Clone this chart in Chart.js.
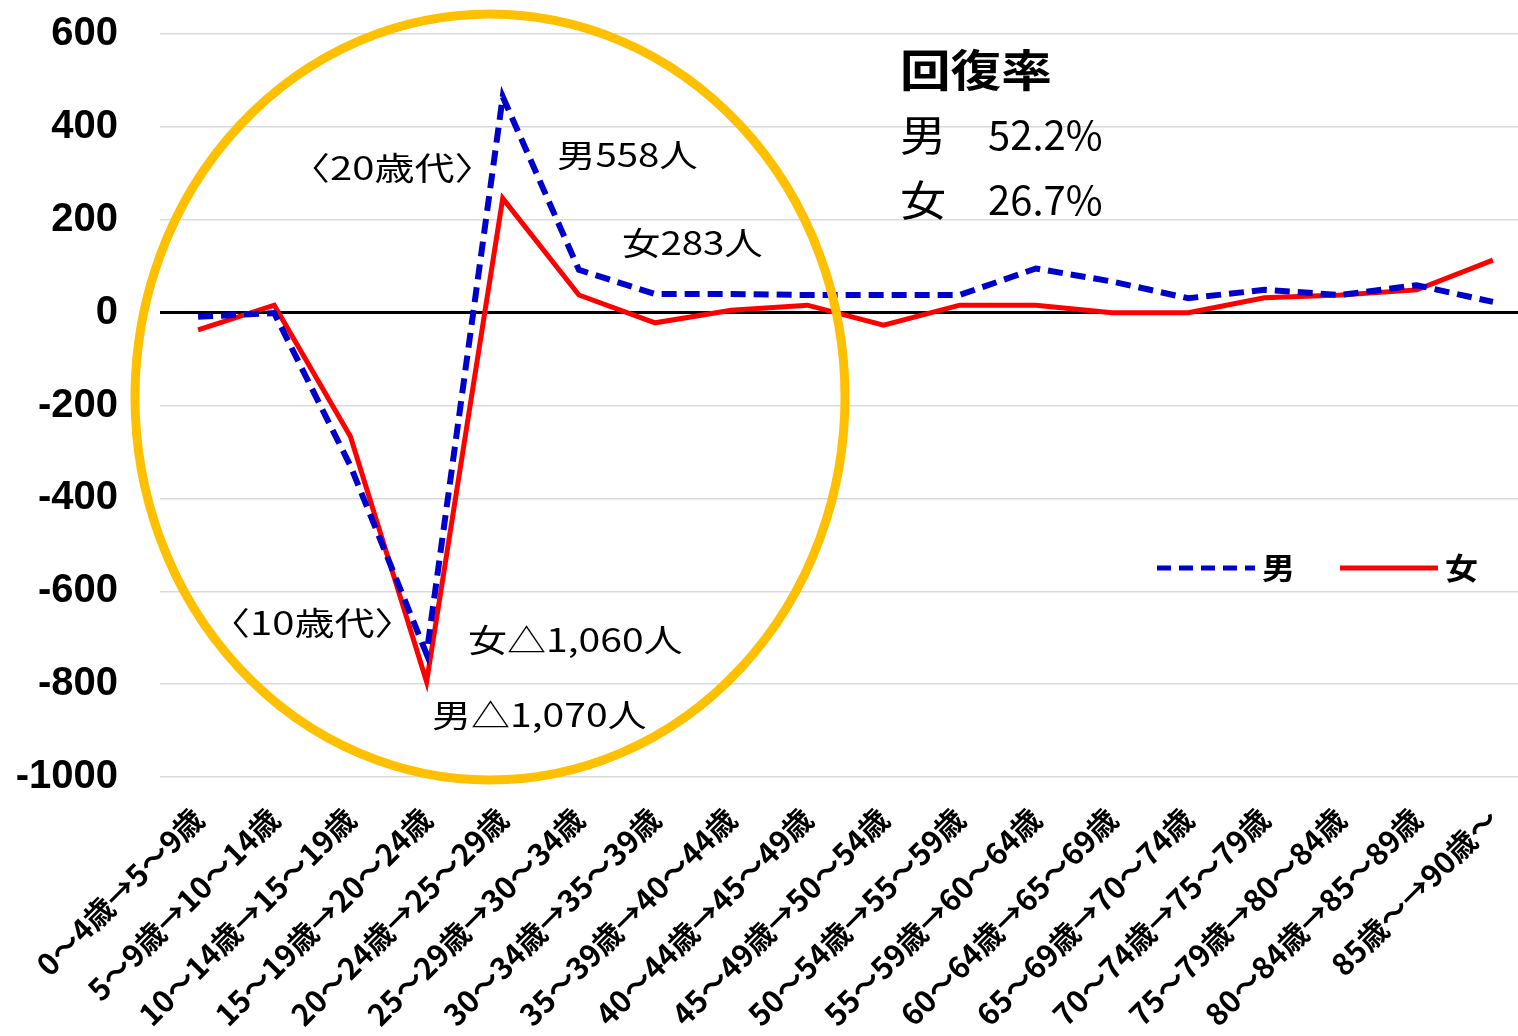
<!DOCTYPE html>
<html>
<head>
<meta charset="utf-8">
<script src="https://cdn.jsdelivr.net/npm/chart.js@4.4.1/dist/chart.umd.min.js"></script>
<style>
  html, body { margin: 0; padding: 0; background: #fff; overflow: hidden; }
  #wrap { width: 1518px; height: 1036px; overflow: hidden; }
</style>
</head>
<body>
<div id="wrap"><canvas id="my-chart" width="1531" height="1036"></canvas></div>
<script>
'use strict';

//categories (age cohort moves)
let ageLabels = [
  '0～4歳→5～9歳', '5～9歳→10～14歳', '10～14歳→15～19歳', '15～19歳→20～24歳',
  '20～24歳→25～29歳', '25～29歳→30～34歳', '30～34歳→35～39歳', '35～39歳→40～44歳',
  '40～44歳→45～49歳', '45～49歳→50～54歳', '50～54歳→55～59歳', '55～59歳→60～64歳',
  '60～64歳→65～69歳', '65～69歳→70～74歳', '70～74歳→75～79歳', '75～79歳→80～84歳',
  '80～84歳→85～89歳', '85歳～→90歳～'
];

//series values
let maleValues = [-9, -1, -330, -735, 465, 92, 40, 40, 38, 38, 38, 95, 67, 31, 49, 38, 59, 23];
let femaleValues = [-37, 16, -267, -795, 246, 38, -22, 5, 16, -27, 16, 16, 0, 0, 32, 38, 49, 113];

//y tick labels
let yTicks = [600, 400, 200, 0, -200, -400, -600, -800, -1000];

const jpFont = '"Noto Sans CJK JP", "Noto Sans", sans-serif';

function drawText(ctx, text, x, y, font, sx) {
  ctx.save();
  ctx.translate(x, y);
  ctx.scale(sx || 1, 1);
  ctx.font = font;
  ctx.fillStyle = '#000';
  ctx.textAlign = 'left';
  ctx.textBaseline = 'middle';
  ctx.fillText(text, 0, 0);
  ctx.restore();
}

//extra drawing: circle, notes, legend
let notesPlugin = {
  id: 'notes',
  afterDraw(chart) {
    let ctx = chart.ctx;
    ctx.save();
    ctx.strokeStyle = '#FFC000';
    ctx.lineWidth = 9;
    ctx.beginPath();
    ctx.ellipse(490, 397, 355, 383, 0, 0, Math.PI * 2);
    ctx.stroke();
    ctx.restore();

    let f32 = '32px ' + jpFont;
    drawText(ctx, '〈20歳代〉', 290, 168, f32, 1.25);
    drawText(ctx, '男558人', 557, 155, f32, 1.2);
    drawText(ctx, '女283人', 622, 243, f32, 1.2);
    drawText(ctx, '〈10歳代〉', 210, 623, f32, 1.25);
    drawText(ctx, '女△1,060人', 468, 640, f32, 1.22);
    drawText(ctx, '男△1,070人', 432, 715, f32, 1.22);

    drawText(ctx, '回復率', 900, 70, 'bold 44px ' + jpFont, 1.15);
    drawText(ctx, '男', 900, 135, '42px ' + jpFont, 1.1);
    drawText(ctx, '52.2%', 988, 135, '40px ' + jpFont, 1.0);
    drawText(ctx, '女', 900, 200, '42px ' + jpFont, 1.1);
    drawText(ctx, '26.7%', 988, 200, '40px ' + jpFont, 1.0);

    //legend
    ctx.save();
    ctx.lineWidth = 5;
    ctx.strokeStyle = '#0000CC';
    ctx.setLineDash([14, 8]);
    ctx.beginPath();
    ctx.moveTo(1157, 568);
    ctx.lineTo(1255, 568);
    ctx.stroke();
    ctx.setLineDash([]);
    ctx.strokeStyle = '#FF0000';
    ctx.beginPath();
    ctx.moveTo(1340, 568);
    ctx.lineTo(1438, 568);
    ctx.stroke();
    ctx.restore();
    drawText(ctx, '男', 1262, 568, 'bold 30px ' + jpFont, 1.1);
    drawText(ctx, '女', 1445, 568, 'bold 30px ' + jpFont, 1.1);
  }
};

const ctx = document.getElementById('my-chart').getContext('2d');

let chartData = {
  type: 'line',
  data: {
    labels: ageLabels,
    datasets: [{
      label: '男',
      data: maleValues,
      borderColor: '#0000CC',
      borderWidth: 6,
      borderDash: [15, 8],
      pointRadius: 0,
      tension: 0,
      fill: false
    },
    {
      label: '女',
      data: femaleValues,
      borderColor: '#FF0000',
      borderWidth: 5,
      pointRadius: 0,
      tension: 0,
      fill: false
    }]
  },
  options: {
    responsive: false,
    animation: false,
    layout: { padding: { top: 34, left: 0, right: 0, bottom: 0 } },
    plugins: {
      legend: { display: false },
      tooltip: { enabled: false }
    },
    scales: {
      x: {
        offset: true,
        grid: { display: false, drawTicks: false },
        border: { display: false },
        ticks: {
          autoSkip: false,
          maxRotation: 45,
          minRotation: 45,
          padding: 24,
          color: '#000',
          font: { family: jpFont, size: 30, weight: 'bold' }
        },
        afterFit(scale) {
          scale.height = 259;
          scale.paddingLeft = 0;
          scale.paddingRight = 0;
        }
      },
      y: {
        min: -1000,
        max: 600,
        afterBuildTicks(scale) {
          scale.ticks = yTicks.map(v => ({ value: v }));
        },
        grid: {
          drawTicks: false,
          color: c => (c.tick && c.tick.value === 0) ? '#000' : '#d9d9d9',
          lineWidth: c => (c.tick && c.tick.value === 0) ? 3 : 1.5
        },
        border: { display: false },
        ticks: {
          padding: 42,
          color: '#000',
          font: { family: '"Liberation Sans", Arial, sans-serif', size: 40, weight: 'bold' },
          callback: v => String(v)
        },
        afterFit(scale) {
          scale.width = 160;
          scale.paddingTop = 0;
          scale.paddingBottom = 0;
        }
      }
    }
  },
  plugins: [notesPlugin]
};

new Chart(ctx, chartData);
</script>
</body>
</html>
